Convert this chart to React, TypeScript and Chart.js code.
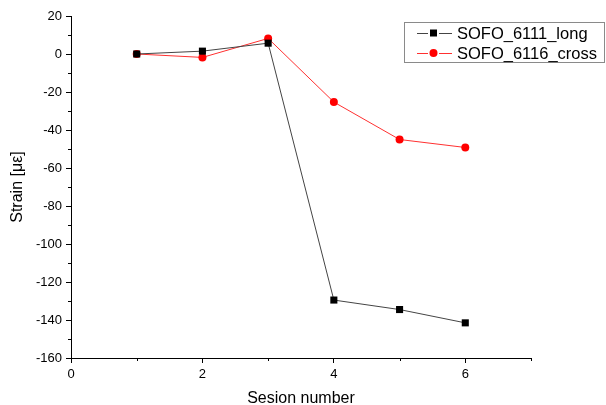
import React, { useEffect, useRef } from "react";
import { Chart, registerables } from "chart.js";

Chart.register(...registerables);

const sessions = [1, 2, 3, 4, 5, 6];
const longValues = [0, 1.5, 5.7, -129.5, -134.5, -141.5];
const crossValues = [0, -1.8, 8.2, -25.3, -45, -49.2];
const seriesNames = ["SOFO_6111_long", "SOFO_6116_cross"];
const xTickLabels = [0, 2, 4, 6];
const yTickLabels = [20, 0, -20, -40, -60, -80, -100, -120, -140, -160];

const FONT = "'Liberation Sans', Arial, sans-serif";

const minorTicks = {
  id: "minorTicks",
  afterDraw(chart: any) {
    const ctx = chart.ctx;
    const xs = chart.scales.x;
    const ys = chart.scales.y;
    ctx.save();
    ctx.strokeStyle = "#000";
    ctx.lineWidth = 1;
    ctx.beginPath();
    for (let v = 1; v <= 7; v += 2) {
      const px = Math.round(xs.getPixelForValue(v)) + 0.5;
      ctx.moveTo(px, ys.bottom);
      ctx.lineTo(px, ys.bottom + 3);
    }
    for (let v = -150; v <= 10; v += 20) {
      const py = Math.round(ys.getPixelForValue(v)) + 0.5;
      ctx.moveTo(xs.left, py);
      ctx.lineTo(xs.left - 3, py);
    }
    ctx.stroke();
    ctx.restore();
  },
};

const boxLegend = {
  id: "boxLegend",
  afterDraw(chart: any) {
    const ctx = chart.ctx;
    const left = 404.5;
    const top = 22.5;
    const right = 604.5;
    const bottom = 62.5;
    ctx.save();
    ctx.fillStyle = "#fff";
    ctx.fillRect(left, top, right - left, bottom - top);
    ctx.strokeStyle = "#8a8a8a";
    ctx.lineWidth = 1;
    ctx.strokeRect(left, top, right - left, bottom - top);
    chart.data.datasets.forEach((ds: any, i: number) => {
      const cy = 33 + i * 20;
      ctx.strokeStyle = ds.borderColor;
      ctx.lineWidth = 1;
      ctx.beginPath();
      ctx.moveTo(417, cy + 0.5);
      ctx.lineTo(428, cy + 0.5);
      ctx.moveTo(439, cy + 0.5);
      ctx.lineTo(452, cy + 0.5);
      ctx.stroke();
      ctx.fillStyle = ds.pointBackgroundColor;
      if (ds.pointStyle === "rect") {
        ctx.fillRect(430, cy - 3.5, 7, 7);
      } else {
        ctx.beginPath();
        ctx.arc(433.5, cy, 4, 0, Math.PI * 2);
        ctx.fill();
      }
      ctx.fillStyle = "#000";
      ctx.font = `16.5px ${FONT}`;
      ctx.textBaseline = "middle";
      ctx.textAlign = "left";
      ctx.fillText(ds.label, 457, cy + 1);
    });
    ctx.restore();
  },
};

export default function App() {
  const ref = useRef<HTMLCanvasElement | null>(null);
  useEffect(() => {
    if (!ref.current) return;
    const chart = new Chart(ref.current, {
      type: "line",
      data: {
        datasets: [
          {
            label: seriesNames[0],
            data: sessions.map((s, i) => ({ x: s, y: longValues[i] })),
            borderColor: "#444444",
            backgroundColor: "#000",
            pointBackgroundColor: "#000",
            pointBorderColor: "#000",
            pointStyle: "rect",
            pointRadius: 5,
            pointBorderWidth: 0,
            borderWidth: 1,
          },
          {
            label: seriesNames[1],
            data: sessions.map((s, i) => ({ x: s, y: crossValues[i] })),
            borderColor: "#ff3030",
            backgroundColor: "#ff0000",
            pointBackgroundColor: "#ff0000",
            pointBorderColor: "#ff0000",
            pointStyle: "circle",
            pointRadius: 4,
            pointBorderWidth: 0,
            borderWidth: 1,
          },
        ],
      },
      options: {
        animation: false,
        responsive: false,
        layout: { padding: { left: 0, right: 75, top: 16, bottom: -3 } },
        plugins: { legend: { display: false }, tooltip: { enabled: false } },
        scales: {
          x: {
            type: "linear",
            min: 0,
            max: 7,
            border: { color: "#000", width: 1 },
            grid: {
              drawOnChartArea: false,
              tickLength: 5,
              tickColor: (c: any) =>
                xTickLabels.includes(c.tick?.value) ? "#000" : "rgba(0,0,0,0)",
            },
            ticks: {
              stepSize: 1,
              autoSkip: false,
              maxRotation: 0,
              padding: 4,
              color: "#000",
              font: { family: FONT, size: 13 },
              callback: (v: any) => (xTickLabels.includes(v) ? String(v) : ""),
            },
            title: {
              display: true,
              text: "Sesion number",
              color: "#000",
              font: { family: FONT, size: 16 },
              padding: { top: 0, bottom: 0 },
            },
            afterFit: (s: any) => {
              s.height = 50;
            },
          },
          y: {
            type: "linear",
            min: -160,
            max: 20,
            border: { color: "#000", width: 1 },
            grid: {
              drawOnChartArea: false,
              tickLength: 5,
              tickColor: (c: any) =>
                yTickLabels.includes(c.tick?.value) ? "#000" : "rgba(0,0,0,0)",
            },
            ticks: {
              stepSize: 10,
              autoSkip: false,
              padding: 4,
              color: "#000",
              font: { family: FONT, size: 13 },
              callback: (v: any) => (yTickLabels.includes(v) ? String(v) : ""),
            },
            title: {
              display: true,
              text: "Strain [με]",
              color: "#000",
              font: { family: FONT, size: 16 },
              padding: { top: 8, bottom: 0 },
            },
            afterFit: (s: any) => {
              s.width = 71;
            },
          },
        },
      },
      plugins: [minorTicks, boxLegend],
    });
    return () => chart.destroy();
  }, []);
  return (
    <div style={{ position: "fixed", left: 0, top: 0, width: 606, height: 405, background: "#fff" }}>
      <canvas ref={ref} width={606} height={405} style={{ width: 606, height: 405 }} />
    </div>
  );
}
